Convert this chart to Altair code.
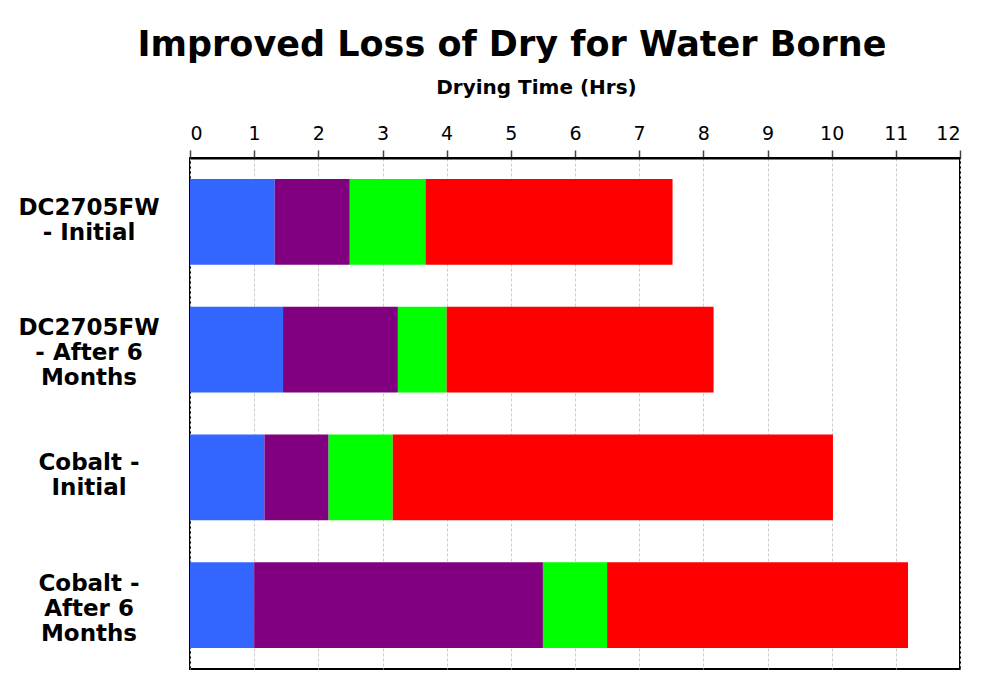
import altair as alt
import pandas as pd

categories = ["DC2705FW - Initial", "DC2705FW - After 6 Months", "Cobalt - Initial", "Cobalt - After 6 Months"]
category_labels = ["DC2705FW|- Initial", "DC2705FW|- After 6|Months", "Cobalt -|Initial", "Cobalt -|After 6|Months"]
stages = ["Stage 1", "Stage 2", "Stage 3", "Stage 4"]
stage_colors = ["#3366FF", "#800080", "#00FF00", "#FF0000"]
stage1 = [1.32, 1.45, 1.16, 1.00]
stage2 = [1.17, 1.79, 1.00, 4.50]
stage3 = [1.18, 0.76, 1.00, 1.00]
stage4 = [3.85, 4.16, 6.86, 4.69]
x_ticks = list(range(0, 13))

rows = []
for i, c in enumerate(categories):
    for j, (s, v) in enumerate(zip(stages, [stage1[i], stage2[i], stage3[i], stage4[i]])):
        rows.append({"Sample": c, "Stage": s, "Order": j, "Hours": v})
df = pd.DataFrame(rows)
labels_df = pd.DataFrame({"Sample": categories, "Label": category_labels,
                          "Lines": [len(l.split("|")) for l in category_labels]})

FONT = "DejaVu Sans"
y_enc = alt.Y("Sample:N", sort=categories, scale=alt.Scale(paddingInner=0, paddingOuter=0),
              axis=alt.Axis(title=None, labels=False, tickBand="extent", tickSize=8,
                            tickColor="#444", tickWidth=1.5, domainColor="black",
                            domainWidth=2, grid=False))

bars = alt.Chart(df).mark_bar(height=alt.RelativeBandSize(0.67)).encode(
    x=alt.X("sum(Hours):Q",
            scale=alt.Scale(domain=[0, 12], nice=False),
            axis=alt.Axis(orient="top", values=x_ticks, title="Drying Time (Hrs)",
                          titleFont=FONT, titleFontSize=20, titleFontWeight="bold",
                          titleColor="black", titlePadding=27, titleX=346,
                          labelFont=FONT, labelFontSize=19, labelColor="black",
                          labelPadding=7, tickSize=8, tickColor="#444", tickWidth=1.5,
                          domainColor="black", domainWidth=2,
                          grid=True, gridColor="#cccccc", gridDash=[3, 2], gridWidth=1)),
    y=y_enc,
    color=alt.Color("Stage:N", scale=alt.Scale(domain=stages, range=stage_colors), legend=None),
    order=alt.Order("Order:Q"),
)

text_style = dict(font=FONT, fontSize=23, fontWeight="bold", color="black",
                  align="center", baseline="middle", lineHeight=25)
label_base = alt.Chart(labels_df).transform_calculate(
    lines="split(datum.Label, '|')"
)
labels2 = label_base.transform_filter("datum.Lines == 2").mark_text(dy=-14, **text_style).encode(
    x=alt.value(-101),
    y=alt.Y("Sample:N", sort=categories, axis=None),
    text="lines:N",
)
labels3 = label_base.transform_filter("datum.Lines == 3").mark_text(dy=-21.6, **text_style).encode(
    x=alt.value(-101),
    y=alt.Y("Sample:N", sort=categories, axis=None),
    text="lines:N",
)

chart = alt.layer(bars, labels2, labels3).properties(
    width=770, height=511,
    padding={"left": 10, "top": 20, "right": 5, "bottom": 5},
    title=alt.TitleParams("Improved Loss of Dry for Water Borne", font=FONT,
                          fontSize=35, fontWeight="bold", color="black", offset=14, dx=-63),
).configure_view(stroke="black", strokeWidth=2)

chart.save("out.html", embed_options={"renderer": "svg", "actions": False})
